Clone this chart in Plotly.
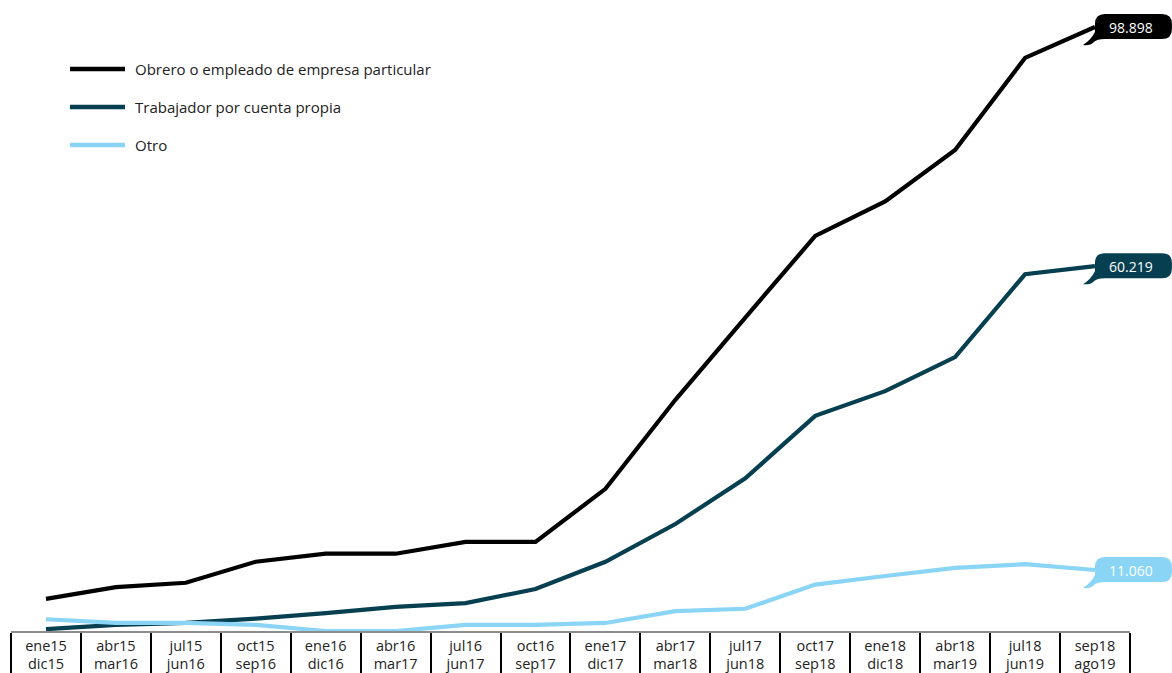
import plotly.graph_objects as go

# Periods (rolling 12-month windows), two-line tick labels
periodo_inicio = ["ene15", "abr15", "jul15", "oct15", "ene16", "abr16", "jul16", "oct16",
                  "ene17", "abr17", "jul17", "oct17", "ene18", "abr18", "jul18", "sep18"]
periodo_fin = ["dic15", "mar16", "jun16", "sep16", "dic16", "mar17", "jun17", "sep17",
               "dic17", "mar18", "jun18", "sep18", "dic18", "mar19", "jun19", "ago19"]

series_nombres = ["Obrero o empleado de empresa particular",
                  "Trabajador por cuenta propia",
                  "Otro"]

obrero = [6.4, 8.3, 9.0, 12.4, 13.7, 13.7, 15.6, 15.6,
          24.2, 38.6, 51.9, 65.1, 70.7, 79.0, 93.9, 98.898]
cuenta_propia = [1.5, 2.2, 2.5, 3.2, 4.1, 5.1, 5.7, 8.0,
                 12.4, 18.5, 25.9, 36.0, 40.0, 45.5, 58.9, 60.219]
otro = [3.1, 2.5, 2.5, 2.2, 1.2, 1.2, 2.2, 2.2,
        2.5, 4.4, 4.8, 8.7, 10.1, 11.4, 12.0, 11.06]

series_valores = [obrero, cuenta_propia, otro]
series_colores = ["#000000", "#063f50", "#8ad5f5"]
etiqueta_texto = ["#ffffff", "#ffffff", "#ffffff"]

FONT = "Open Sans"
W, H = 1172, 673
MB = 41

x = list(range(len(periodo_inicio)))
ticktext = [f"{a}<br>{b}" for a, b in zip(periodo_inicio, periodo_fin)]

fig = go.Figure()
for nombre, vals, color in zip(series_nombres, series_valores, series_colores):
    fig.add_trace(go.Scatter(
        x=x, y=vals, mode="lines", name=nombre,
        line=dict(color=color, width=4.2),
        cliponaxis=False, showlegend=False, hoverinfo="skip",
    ))

shapes = []
annotations = []

# Baseline of the category axis
shapes.append(dict(type="line", xref="x", yref="paper",
                   x0=-0.5, x1=len(x) - 0.5, y0=0, y1=0,
                   line=dict(color="#8c8c8c", width=2)))

# Callout label at the last point of each series
def fmt(v):
    return f"{v:.3f}"

last = len(x) - 1
for vals, color, tcol in zip(series_valores, series_colores, etiqueta_texto):
    v = vals[-1]
    r = 10
    x0, x1, y0, y1 = 0, 77, -12, 13
    path = (f"M{x0 + r},{y1} L{x1 - r},{y1} Q{x1},{y1} {x1},{y1 - r} "
            f"L{x1},{y0 + r} Q{x1},{y0} {x1 - r},{y0} L{x0 + r},{y0} "
            f"Q{x0 + 2},{y0} {x0 - 1},{y0 - 3} Q{x0 - 5},{y0 - 7} {x0 - 12},{y0 - 6} "
            f"Q{x0 - 4},{y0 - 1} {x0},{y0 + 7} L{x0},{y1 - r} Q{x0},{y1} {x0 + r},{y1} Z")
    shapes.append(dict(type="path", xref="x", yref="y",
                       xsizemode="pixel", ysizemode="pixel",
                       xanchor=last, yanchor=v, path=path,
                       fillcolor=color, line=dict(width=0), layer="above"))
    annotations.append(dict(x=last, y=v, xref="x", yref="y", text=fmt(v),
                            showarrow=False, xshift=36, yshift=0,
                            font=dict(family=FONT, size=14, color=tcol)))

# Legend drawn as line swatches with labels
leg_y = [69, 107, 145]
for nombre, color, py in zip(series_nombres, series_colores, leg_y):
    yp = 1 - py / (H - MB)
    shapes.append(dict(type="line", xref="paper", yref="paper",
                       x0=70 / W, x1=125 / W, y0=yp, y1=yp,
                       line=dict(color=color, width=4.5)))
    annotations.append(dict(x=133 / W, y=yp, xref="paper", yref="paper",
                            xanchor="left", yanchor="middle", showarrow=False,
                            text=nombre, font=dict(family=FONT, size=15, color="#222222")))

# pixel mapping: category i centred at 46 + 69.93*i, value v at 638.4 - 6.182*v
step = 69.93
x_lo = -46 / step
x_hi = (W - 46) / step
y_top = 638.4 / 6.182
y_bot = (638.4 - (H - MB)) / 6.182

fig.update_layout(
    width=W, height=H,
    margin=dict(l=0, r=0, t=0, b=MB),
    paper_bgcolor="white", plot_bgcolor="white",
    showlegend=False,
    shapes=shapes, annotations=annotations,
    xaxis=dict(range=[x_lo, x_hi], tickvals=x, ticktext=ticktext,
               showgrid=False, zeroline=False, showline=False, automargin=False,
               ticks="", ticklabelstandoff=3,
               tickfont=dict(family=FONT, size=14.5, color="#222222"),
               minor=dict(tickvals=[i - 0.5 for i in range(len(x) + 1)],
                          ticks="outside", ticklen=MB, tickwidth=1.6,
                          tickcolor="#000000", showgrid=False)),
    yaxis=dict(range=[y_bot, y_top], visible=False, showgrid=False, zeroline=False,
               automargin=False),
)

fig.write_html("out.html")
